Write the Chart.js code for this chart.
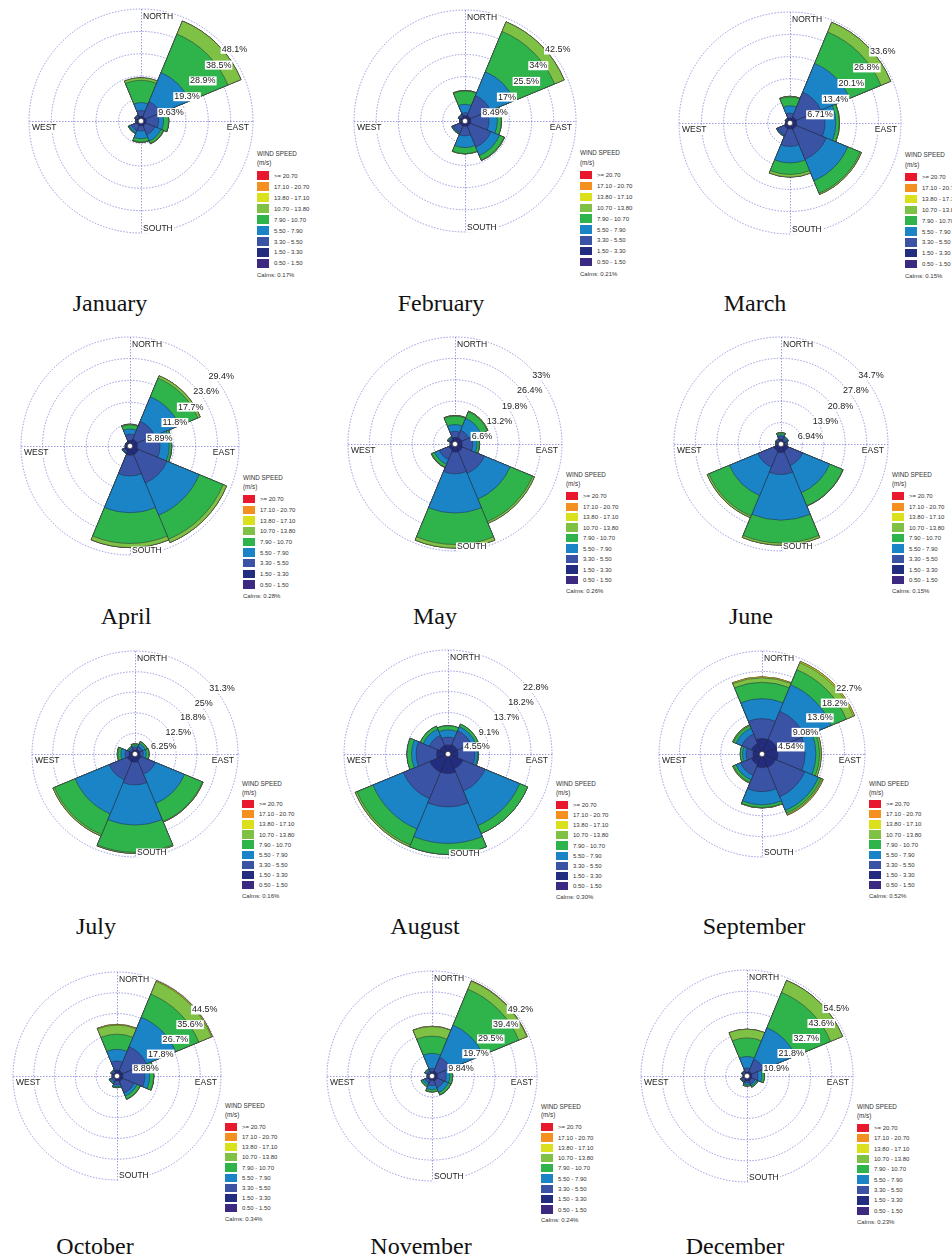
<!DOCTYPE html>
<html>
<head>
<meta charset="utf-8">
<script src="https://cdn.jsdelivr.net/npm/chart.js@4.4.1/dist/chart.umd.min.js"></script>
<style>
html,body{margin:0;padding:0;background:#fff;}
#page{position:relative;width:952px;height:1260px;overflow:hidden;background:#fff;}
canvas{position:absolute;}
.month{position:absolute;font-family:"Liberation Serif","Times New Roman",serif;font-size:24px;line-height:24px;color:#111;white-space:nowrap;transform:translateX(-50%);}
.lg{position:absolute;font-family:"Liberation Sans",Arial,sans-serif;color:#333;white-space:nowrap;line-height:8px;}
.box{position:absolute;}
</style>
</head>
<body>
<div id="page"></div>
<script>
// ---------------- DATA ----------------
const directions = ['N','NE','E','SE','S','SW','W','NW'];
const speedBins = ['0.50 - 1.50','1.50 - 3.30','3.30 - 5.50','5.50 - 7.90','7.90 - 10.70','10.70 - 13.80','13.80 - 17.10','17.10 - 20.70','>= 20.70'];
const monthNames = ['January','February','March','April','May','June','July','August','September','October','November','December'];
const calms = ['0.17%','0.21%','0.15%','0.28%','0.26%','0.15%','0.16%','0.30%','0.52%','0.34%','0.24%','0.23%'];
// ring (tick) values, % frequency
const ringValues = [
  [9.63,19.3,28.9,38.5,48.1],
  [8.49,17,25.5,34,42.5],
  [6.71,13.4,20.1,26.8,33.6],
  [5.89,11.8,17.7,23.6,29.4],
  [6.6,13.2,19.8,26.4,33],
  [6.94,13.9,20.8,27.8,34.7],
  [6.25,12.5,18.8,25,31.3],
  [4.55,9.1,13.7,18.2,22.8],
  [4.54,9.08,13.6,18.2,22.7],
  [8.89,17.8,26.7,35.6,44.5],
  [9.84,19.7,29.5,39.4,49.2],
  [10.9,21.8,32.7,43.6,54.5]
];
// frequency (%) per speed bin (rows, low -> high) per direction (N, NE, E, SE, S, SW, W, NW)
const freqJan = [
  [0.5,0.5,0.5,0.5,0.5,0.4,0.4,0.4],
  [1.5,1.5,1.7,1.7,1.5,1.6,1.1,1.4],
  [2.5,7.0,5.4,4.2,2.3,2.5,0.5,0.7],
  [3.4,13.5,2.1,2.9,3.3,1.0,0.2,0.3],
  [9.6,17.9,2.2,1.1,1.4,0.3,0.1,0.1],
  [1.1,6.1,0.1,0.2,0.2,0.1,0,0],
  [0,0,0,0,0,0,0,0],[0,0,0,0,0,0,0,0],[0,0,0,0,0,0,0,0]
];
const freqFeb = [
  [0.5,0.5,0.5,0.5,0.5,0.4,0.4,0.4],
  [1.5,1.7,1.7,1.7,1.5,1.6,1.1,1.4],
  [1.2,8.3,7.0,8.6,3.7,2.8,0.4,0.7],
  [3.2,9.9,3.2,3.5,4.5,0.4,0.1,0.2],
  [5.1,16.7,1.5,1.9,2.3,0.2,0.1,0.1],
  [0.2,4.0,0.1,0.2,0.1,0.1,0,0],
  [0,0,0,0,0,0,0,0],[0,0,0,0,0,0,0,0],[0,0,0,0,0,0,0,0]
];
const freqMar = [
  [0.4,0.5,0.5,0.5,0.5,0.4,0.3,0.3],
  [1.1,1.5,1.5,1.5,1.3,1.4,0.7,0.9],
  [1.5,8.1,8.6,9.9,5.3,2.2,0.2,0.3],
  [2.2,9.4,3.3,7.0,5.0,0.3,0.1,0.1],
  [2.7,10.3,1.0,4.1,3.5,0.1,0,0],
  [0.2,3.2,0.1,0.4,0.8,0,0,0],
  [0,0,0,0,0,0,0,0],[0,0,0,0,0,0,0,0],[0,0,0,0,0,0,0,0]
];
const freqApr = [
  [0.4,0.5,0.5,0.6,0.6,0.4,0.3,0.3],
  [1.1,1.5,1.5,1.9,1.9,1.1,0.7,0.7],
  [1.7,5.2,6.1,8.3,5.6,0.5,0.2,0.2],
  [1.4,7.2,2.5,9.4,9.9,0.2,0.1,0.1],
  [1.1,5.4,0.6,7.0,8.3,0.1,0,0],
  [0.2,0.7,0.1,1.0,1.1,0,0,0],
  [0,0,0,0,0,0,0,0],[0,0,0,0,0,0,0,0],[0,0,0,0,0,0,0,0]
];
const freqMay = [
  [0.5,0.5,0.5,0.6,0.6,0.5,0.4,0.4],
  [1.5,1.7,1.7,1.9,1.9,1.5,0.6,1.1],
  [1.9,2.4,3.3,7.3,6.7,3.2,0.3,0.5],
  [2.1,4.0,1.3,8.6,12.1,1.6,0.1,0.3],
  [2.6,2.2,0.7,7.5,9.7,0.9,0.1,0.2],
  [0.2,0.2,0.1,0.6,1.1,0.2,0,0],
  [0,0,0,0,0,0,0,0],[0,0,0,0,0,0,0,0],[0,0,0,0,0,0,0,0]
];
const freqJun = [
  [0.5,0.4,0.4,0.6,0.6,0.6,0.4,0.4],
  [1.0,0.8,0.8,1.9,2.2,1.9,0.6,0.6],
  [1.0,0.8,0.5,5.1,7.1,5.6,0.4,0.6],
  [0.5,0.4,0.2,9.5,14.8,10.0,0.2,0.2],
  [0.6,0.2,0.1,4.6,7.4,7.2,0.1,0.1],
  [0.1,0,0,0.1,0.7,0.6,0,0],
  [0,0,0,0,0,0,0,0],[0,0,0,0,0,0,0,0],[0,0,0,0,0,0,0,0]
];
const freqJul = [
  [0.4,0.4,0.4,0.5,0.6,0.6,0.4,0.4],
  [0.8,1.1,1.1,1.5,1.9,1.9,1.4,0.8],
  [0.8,1.0,1.0,4.7,6.9,6.0,1.2,0.6],
  [0.5,0.9,0.9,9.6,12.2,11.2,1.3,0.4],
  [0.5,0.6,0.8,5.9,8.3,6.8,0.9,0.3],
  [0.1,0.1,0.1,0.2,0.3,0.5,0.2,0],
  [0,0,0,0,0,0,0,0],[0,0,0,0,0,0,0,0],[0,0,0,0,0,0,0,0]
];
const freqAug = [
  [0.6,0.6,0.6,0.6,0.6,0.6,0.6,0.6],
  [1.4,1.6,1.6,2.9,3.7,3.7,1.9,1.4],
  [1.7,3.3,3.7,5.3,7.3,6.3,4.5,2.4],
  [1.6,1.0,0.6,8.2,8.0,7.2,1.0,1.5],
  [0.9,0.6,0.2,1.9,2.4,3.8,1.0,0.7],
  [0,0,0,0,0,0.4,0,0],
  [0,0,0,0,0,0,0,0],[0,0,0,0,0,0,0,0],[0,0,0,0,0,0,0,0]
];
const freqSep = [
  [0.6,0.6,0.6,0.6,0.6,0.5,0.5,0.5],
  [2.8,2.9,2.9,2.6,2.4,2.0,1.5,2.0],
  [4.4,6.7,6.0,7.0,5.3,2.6,1.5,2.3],
  [4.4,6.3,2.4,3.3,2.9,1.1,0.8,1.4],
  [3.6,3.6,0.8,0.6,0.6,0.6,0.5,0.6],
  [1.0,1.7,0.4,0.3,0.1,0.2,0,0.2],
  [0.2,0.3,0,0.2,0,0,0,0],
  [0,0,0,0,0,0,0,0],[0,0,0,0,0,0,0,0]
];
const freqOct = [
  [0.5,0.5,0.5,0.5,0.5,0.4,0.4,0.4],
  [2.0,2.0,2.0,2.0,1.5,1.1,0.8,1.1],
  [3.9,11.1,9.4,5.4,1.8,1.1,0.6,0.8],
  [5.0,13.6,2.1,1.4,0.8,0.7,0.2,0.4],
  [6.5,10.7,1.7,1.4,0.4,0.3,0.1,0.2],
  [3.9,5.9,0.1,0.1,0,0,0,0],
  [0.3,0.4,0,0,0,0,0,0],
  [0,0,0,0,0,0,0,0],[0,0,0,0,0,0,0,0]
];
const freqNov = [
  [0.5,0.5,0.5,0.5,0.5,0.5,0.4,0.4],
  [1.5,2.0,2.0,2.0,1.5,1.5,0.8,1.1],
  [1.6,6.9,4.1,3.5,2.5,1.5,0.6,1.0],
  [7.0,16.4,1.8,2.3,1.9,1.1,0.3,0.7],
  [8.1,18.2,1.2,1.2,1.0,0.8,0.2,0.5],
  [4.5,4.1,0.1,0.1,0.1,0.1,0,0],
  [0.1,0.2,0,0,0,0,0,0],
  [0,0,0,0,0,0,0,0],[0,0,0,0,0,0,0,0]
];
const freqDec = [
  [0.5,0.5,0.5,0.5,0.5,0.4,0.4,0.4],
  [1.5,2.0,2.0,2.0,2.0,1.6,0.8,1.1],
  [2.1,6.8,3.2,2.0,1.0,1.0,0.6,1.0],
  [5.9,17.6,2.0,1.0,1.0,0.3,0.2,0.3],
  [9.6,19.6,1.3,0.7,0.7,0.3,0,0.2],
  [4.5,6.7,0,0,0,0,0,0],
  [0,0,0,0,0,0,0,0],[0,0,0,0,0,0,0,0],[0,0,0,0,0,0,0,0]
];
const monthFreqs = [freqJan,freqFeb,freqMar,freqApr,freqMay,freqJun,freqJul,freqAug,freqSep,freqOct,freqNov,freqDec];

// ---------------- STYLE / LAYOUT ----------------
const binColors = ['#3b2a80','#232d7f','#3a53a4','#1a84c7','#2fb34b','#7ec144','#dbe01c','#f39020','#e8192c'];
const gridColor = 'rgba(125,125,215,0.85)';
const panelGeom = [
  {cx:141, cy:121, r:112, tx:110, ty:311},
  {cx:465, cy:121, r:111, tx:441, ty:311},
  {cx:790, cy:123, r:111, tx:755, ty:311},
  {cx:130, cy:446, r:109, tx:126, ty:624},
  {cx:455, cy:444, r:107, tx:435, ty:624},
  {cx:781, cy:444, r:107, tx:751, ty:624},
  {cx:135, cy:754, r:103, tx:96,  ty:934},
  {cx:448, cy:754, r:104, tx:425, ty:934},
  {cx:762, cy:754, r:103, tx:754, ty:934},
  {cx:117, cy:1076, r:104, tx:95,  ty:1254},
  {cx:432, cy:1076, r:105, tx:421, ty:1254},
  {cx:747, cy:1076, r:106, tx:735, ty:1254}
];
const MARGIN = 4;

const page = document.getElementById('page');

function cumulative(freq) {
  const out = [];
  let run = new Array(directions.length).fill(0);
  freq.forEach(row => {
    run = run.map((v, i) => v + row[i]);
    out.push(run.slice());
  });
  return out;
}

function labelBox(ctx, text, x, y, align) {
  const w = ctx.measureText(text).width;
  const left = align === 'right' ? x - w : x;
  ctx.fillStyle = '#fff';
  ctx.fillRect(left - 1, y - 4.5, w + 2, 9);
  ctx.fillStyle = '#222';
  ctx.textAlign = 'left';
  ctx.fillText(text, left, y);
}

const roseDecor = {
  id: 'roseDecor',
  beforeDatasetsDraw(chart) {
    const s = chart.scales.r, ctx = chart.ctx;
    const R = s.drawingArea;
    ctx.save();
    ctx.strokeStyle = gridColor;
    ctx.lineWidth = 0.9;
    ctx.setLineDash([1.5, 1.5]);
    ctx.beginPath();
    ctx.moveTo(s.xCenter - R, s.yCenter + 0.5);
    ctx.lineTo(s.xCenter + R, s.yCenter + 0.5);
    ctx.moveTo(s.xCenter + 0.5, s.yCenter - R);
    ctx.lineTo(s.xCenter + 0.5, s.yCenter + R);
    ctx.stroke();
    ctx.restore();
  },
  afterDatasetsDraw(chart) {
    const s = chart.scales.r, ctx = chart.ctx;
    const R = s.drawingArea, xc = s.xCenter, yc = s.yCenter;
    ctx.save();
    // calm circle
    ctx.beginPath();
    ctx.arc(xc, yc, 2.6, 0, Math.PI * 2);
    ctx.fillStyle = '#fff';
    ctx.fill();
    ctx.lineWidth = 0.6;
    ctx.strokeStyle = '#333';
    ctx.stroke();
    // ring labels from the scale ticks
    ctx.font = '9px "Liberation Sans", Arial, sans-serif';
    ctx.textBaseline = 'middle';
    s.ticks.forEach((t, i) => {
      if (i === 0) return;
      const d = s.getDistanceFromCenterForValue(t.value);
      labelBox(ctx, t.label, xc + d * 0.7071 + 1.5, yc - d * 0.7071 + 7.5, 'left');
    });
    // compass labels
    ctx.font = '8.5px "Liberation Sans", Arial, sans-serif';
    labelBox(ctx, 'NORTH', xc + 2, yc - R + 7.5, 'left');
    labelBox(ctx, 'SOUTH', xc + 2, yc + R - 4, 'left');
    labelBox(ctx, 'WEST', xc - R + 3, yc + 7, 'left');
    labelBox(ctx, 'EAST', xc + R - 4, yc + 7, 'right');
    ctx.restore();
  }
};

function addText(cls, text, left, top, size) {
  const d = document.createElement('div');
  d.className = cls;
  d.textContent = text;
  d.style.left = left + 'px';
  d.style.top = top + 'px';
  if (size) d.style.fontSize = size + 'px';
  page.appendChild(d);
  return d;
}

monthNames.forEach((name, m) => {
  const g = panelGeom[m];
  const size = 2 * g.r + 2 * MARGIN;
  const cv = document.createElement('canvas');
  cv.width = size; cv.height = size;
  cv.style.width = size + 'px'; cv.style.height = size + 'px';
  cv.style.left = (g.cx - g.r - MARGIN) + 'px';
  cv.style.top = (g.cy - g.r - MARGIN) + 'px';
  page.appendChild(cv);

  const cum = cumulative(monthFreqs[m]);
  const rings = ringValues[m];
  new Chart(cv, {
    type: 'polarArea',
    data: {
      labels: directions,
      datasets: cum.map((vals, k) => ({
        label: speedBins[k],
        data: vals,
        backgroundColor: binColors[k],
        borderColor: 'rgba(35,35,55,0.8)',
        borderWidth: 0.6
      }))
    },
    options: {
      responsive: false,
      animation: false,
      devicePixelRatio: 1,
      layout: { padding: MARGIN },
      plugins: { legend: { display: false }, tooltip: { enabled: false } },
      scales: {
        r: {
          min: 0,
          max: rings[rings.length - 1],
          startAngle: -22.5,
          afterBuildTicks: sc => { sc.ticks = [0].concat(rings).map(v => ({ value: v })); },
          ticks: { display: false, callback: (v) => v === 0 ? '' : v + '%' },
          grid: { circular: true, color: gridColor, lineWidth: 0.9 },
          border: { dash: [1.5, 1.5] },
          angleLines: { display: false },
          pointLabels: { display: false }
        }
      }
    },
    plugins: [roseDecor]
  });

  // month name
  addText('month', name, g.tx, g.ty - 20);

  // legend
  const sp = 0.098 * g.r;
  const lx = g.cx + g.r + 4;
  const yWS = g.cy + 0.292 * g.r;
  addText('lg', 'WIND SPEED', lx, yWS - 4, 6.3);
  addText('lg', '(m/s)', lx, yWS + 0.85 * sp - 4, 6.3);
  for (let i = 0; i < speedBins.length; i++) {
    const k = speedBins.length - 1 - i;
    const yc = yWS + 2.0 * sp + i * sp;
    const b = document.createElement('div');
    b.className = 'box';
    b.style.left = lx + 'px';
    b.style.top = (yc - 4.2) + 'px';
    b.style.width = '11.5px';
    b.style.height = '8.3px';
    b.style.background = binColors[k];
    page.appendChild(b);
    addText('lg', speedBins[k], lx + 17, yc - 4, 6);
  }
  const yCalm = yWS + 2.0 * sp + 8 * sp + 1.05 * sp;
  addText('lg', 'Calms: ' + calms[m], lx, yCalm - 4, 6);
});
</script>
</body>
</html>
